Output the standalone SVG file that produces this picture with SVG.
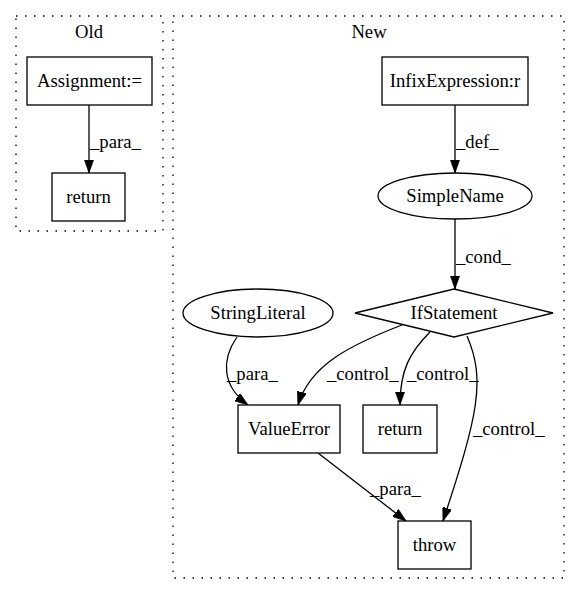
<svg xmlns="http://www.w3.org/2000/svg" width="580" height="596" viewBox="0 0 580 596">
<defs>
<style>
.cl{fill:none;stroke:#000;stroke-width:1.3;stroke-dasharray:1.5,7.5}
.nd{fill:#fff;stroke:#000;stroke-width:1.3}
.ed{fill:none;stroke:#000;stroke-width:1.3}
text{font-family:'Liberation Serif','Times New Roman',Times,'DejaVu Serif',serif;font-size:18.67px;fill:#000}
.c{text-anchor:middle}
</style>
<marker id="ah" viewBox="0 0 10 7" refX="10" refY="3.5" markerWidth="13.3" markerHeight="9.3" markerUnits="userSpaceOnUse" orient="auto">
<path d="M0,0 L10,3.5 L0,7 z" fill="#000" stroke="#000" stroke-width="0.5"/>
</marker>
</defs>
<rect width="580" height="596" fill="#fff"/>
<g font-family="Liberation Serif, Times New Roman, DejaVu Serif, serif">
<g id="cluster_old">
<rect class="cl" x="16" y="16" width="147" height="215"/>
<text class="c" x="89" y="38">Old</text>
</g>
<g id="cluster_new">
<rect class="cl" x="173" y="16" width="391" height="562"/>
<text class="c" x="369" y="38">New</text>
</g>
<g id="edges">
<path class="ed" d="M89,105 L89,173" marker-end="url(#ah)"/>
<text x="90" y="148">_para_</text>
<path class="ed" d="M455,105 L455,173" marker-end="url(#ah)"/>
<text x="456" y="148">_def_</text>
<path class="ed" d="M455,219 L455,289" marker-end="url(#ah)"/>
<text x="456" y="263">_cond_</text>
<path class="ed" d="M237,337 C221,360 222,386 248,405" marker-end="url(#ah)"/>
<text x="227" y="380">_para_</text>
<path class="ed" d="M402,325 C350,345 310,365 298,405" marker-end="url(#ah)"/>
<text x="327" y="380">_control_</text>
<path class="ed" d="M430,332 C410,352 400,370 400,405" marker-end="url(#ah)"/>
<text x="407" y="380">_control_</text>
<path class="ed" d="M467,336 C486,380 478,415 443,521" marker-end="url(#ah)"/>
<text x="473" y="435">_control_</text>
<path class="ed" d="M318,453 L406,521" marker-end="url(#ah)"/>
<text x="370" y="495">_para_</text>
</g>
<g id="n_assign">
<rect class="nd" x="27" y="57" width="125" height="48"/>
<text class="c" x="89.5" y="87">Assignment:=</text>
</g>
<g id="n_return_old">
<rect class="nd" x="52" y="173" width="73" height="48"/>
<text class="c" x="88.5" y="203">return</text>
</g>
<g id="n_infix">
<rect class="nd" x="382" y="57" width="146" height="48"/>
<text class="c" x="455" y="87">InfixExpression:r</text>
</g>
<g id="n_simplename">
<ellipse class="nd" cx="455" cy="196" rx="77" ry="23"/>
<text class="c" x="455" y="202">SimpleName</text>
</g>
<g id="n_if">
<polygon class="nd" points="454,289 553,313 454,337 355,313"/>
<text class="c" x="454" y="319">IfStatement</text>
</g>
<g id="n_stringlit">
<ellipse class="nd" cx="258" cy="313" rx="75" ry="24"/>
<text class="c" x="258" y="319">StringLiteral</text>
</g>
<g id="n_valueerror">
<rect class="nd" x="238" y="405" width="102" height="48"/>
<text class="c" x="289" y="435">ValueError</text>
</g>
<g id="n_return_new">
<rect class="nd" x="363" y="405" width="74" height="48"/>
<text class="c" x="400" y="435">return</text>
</g>
<g id="n_throw">
<rect class="nd" x="398" y="521" width="73" height="48"/>
<text class="c" x="434.5" y="551">throw</text>
</g>
</g>
</svg>
